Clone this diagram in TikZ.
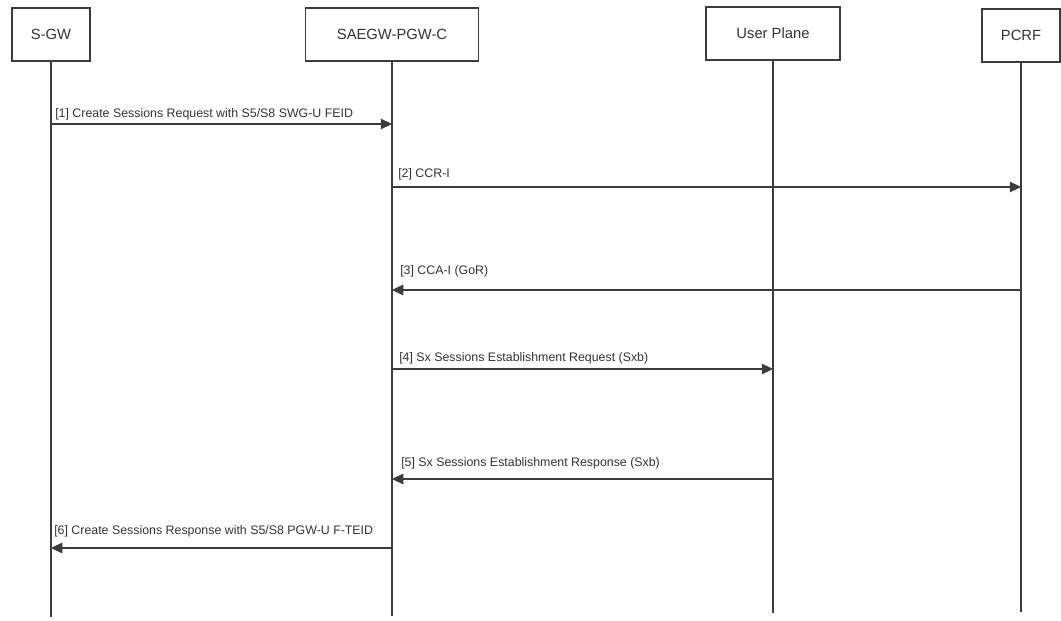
\documentclass[tikz,border=0pt]{standalone}
\usepackage{fontspec}
\setmainfont{Liberation Sans}
\usetikzlibrary{arrows.meta}
\definecolor{lne}{HTML}{3C3C3C}
\definecolor{txt}{HTML}{333333}
\begin{document}
\begin{tikzpicture}[x=0.025cm,y=-0.025cm]
		\tikzstyle{actor}=[draw=lne,line width=0.9pt,fill=white,text=txt,minimum height=1.325cm,font=\fontsize{10.5}{12}\selectfont]
		\tikzstyle{life}=[draw=lne,line width=0.9pt]
		\tikzstyle{msg}=[draw=lne,line width=0.75pt,-{Triangle[length=8pt,width=7.5pt]}]
		\tikzstyle{lbl}=[anchor=base west,inner sep=0pt,text=txt,font=\fontsize{8.8}{10}\selectfont]
		\useasboundingbox (0,0) rectangle (1061,620);
		
		\node[actor,minimum width=1.95cm] (sgw) at (51,34.5) {S-GW};
		\node[actor,minimum width=4.33cm] (pgwc) at (392,34.5) {SAEGW-PGW-C};
		\node[actor,minimum width=3.35cm] (up) at (773,33.5) {User Plane};
		\node[actor,minimum width=1.95cm] (pcrf) at (1021,35.5) {PCRF};
		
		\coordinate (sgwe) at (51,617);
		\coordinate (pgwce) at (392,616);
		\coordinate (upe) at (773,613);
		\coordinate (pcrfe) at (1021,612);
		\draw[life] (sgw) -- (sgwe);
		\draw[life] (pgwc) -- (pgwce);
		\draw[life] (up) -- (upe);
		\draw[life] (pcrf) -- (pcrfe);
		
		\coordinate (r1) at (0,124);
		\coordinate (r2) at (0,187);
		\coordinate (r3) at (0,290);
		\coordinate (r4) at (0,369);
		\coordinate (r5) at (0,479);
		\coordinate (r6) at (0,548);
		\draw[msg] (sgw |- r1) -- (pgwc |- r1);
		\draw[msg] (pgwc |- r2) -- (pcrf |- r2);
		\draw[msg] (pcrf |- r3) -- (pgwc |- r3);
		\draw[msg] (pgwc |- r4) -- (up |- r4);
		\draw[msg] (up |- r5) -- (pgwc |- r5);
		\draw[msg] (pgwc |- r6) -- (sgw |- r6);
		
		\node[lbl] (l1) at (55,117) {[1] Create Sessions Request with S5/S8 SWG-U FEID};
		\node[lbl] (l2) at (398,177) {[2] CCR-I};
		\node[lbl] (l3) at (400,274) {[3] CCA-I (GoR)};
		\node[lbl] (l4) at (399,361) {[4] Sx Sessions Establishment Request (Sxb)};
		\node[lbl] (l5) at (401,466) {[5] Sx Sessions Establishment Response (Sxb)};
		\node[lbl] (l6) at (54,534) {[6] Create Sessions Response with S5/S8 PGW-U F-TEID};
	\end{tikzpicture}
\end{document}
